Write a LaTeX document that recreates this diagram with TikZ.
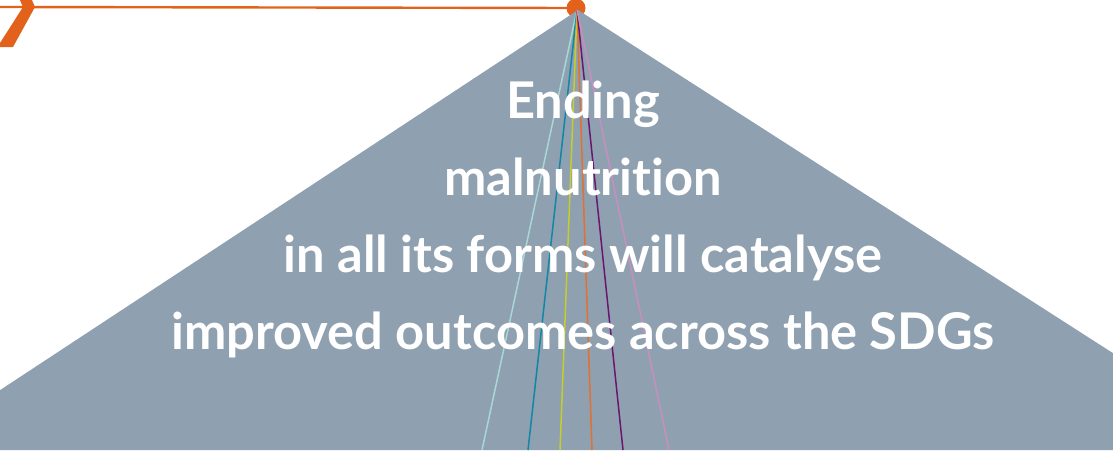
\documentclass[tikz,border=0pt]{standalone}
\usepackage{fontspec}
\setmainfont{Lato}[Ligatures=NoCommon]
\usetikzlibrary{positioning}
\definecolor{slate}{HTML}{8FA0B0}
\definecolor{rust}{HTML}{E2621B}
\definecolor{aqua}{HTML}{A8D8D6}
\definecolor{teal2}{HTML}{0E88A6}
\definecolor{lime2}{HTML}{C6CE2A}
\definecolor{tang}{HTML}{E2702E}
\definecolor{plum}{HTML}{6A1670}
\definecolor{mauve}{HTML}{C88EC0}
\tikzstyle{msg} = [text=white, font=\fontsize{50.6}{54}\selectfont\bfseries,
    anchor=base, inner sep=0pt]
\tikzstyle{strand} = [line width=1.5pt]

\begin{document}
\begin{tikzpicture}[x=1pt,y=-1pt]
  \useasboundingbox (0,0) rectangle (1113,450);
  \clip (0,0) rectangle (1113,450);

  % orange timeline
  \coordinate (start) at (0,7);
  \node[circle, fill=rust, minimum size=19pt, inner sep=0pt] (dot) at (576,8) {};
  \draw[rust, line width=2.4pt] (start) -- (dot.center);
  \fill[rust] (19,-2) -- (31,-2) -- (35,7) -- (13,47) -- (0,47) -- (0,43) -- (23,7) -- cycle;

  % grey triangle
  \coordinate (apex) at (578,10);
  \fill[slate] (apex) -- (-91,450) -- (1264,450) -- cycle;

  % coloured strands
  \coordinate (top) at (577,10);
  \coordinate (b1) at (482,450);
  \coordinate (b2) at (528,450);
  \coordinate (b3) at (560,450);
  \coordinate (b4) at (592,450);
  \coordinate (b5) at (623,450);
  \coordinate (b6) at (669,450);
  \draw[strand, aqua]  (top) -- (b1);
  \draw[strand, teal2] (top) -- (b2);
  \draw[strand, lime2] (top) -- (b3);
  \draw[strand, tang]  (top) -- (b4);
  \draw[strand, plum]  (top) -- (b5);
  \draw[strand, mauve] (top) -- (b6);

  % message
  \node[msg] (l1) at (583,118) {Ending};
  \node[msg] (l2) at (583,195) {malnutrition};
  \node[msg] (l3) at (583,272) {in all its forms will catalyse};
  \node[msg] (l4) at (583,349) {improved outcomes across the SDGs};
\end{tikzpicture}
\end{document}
